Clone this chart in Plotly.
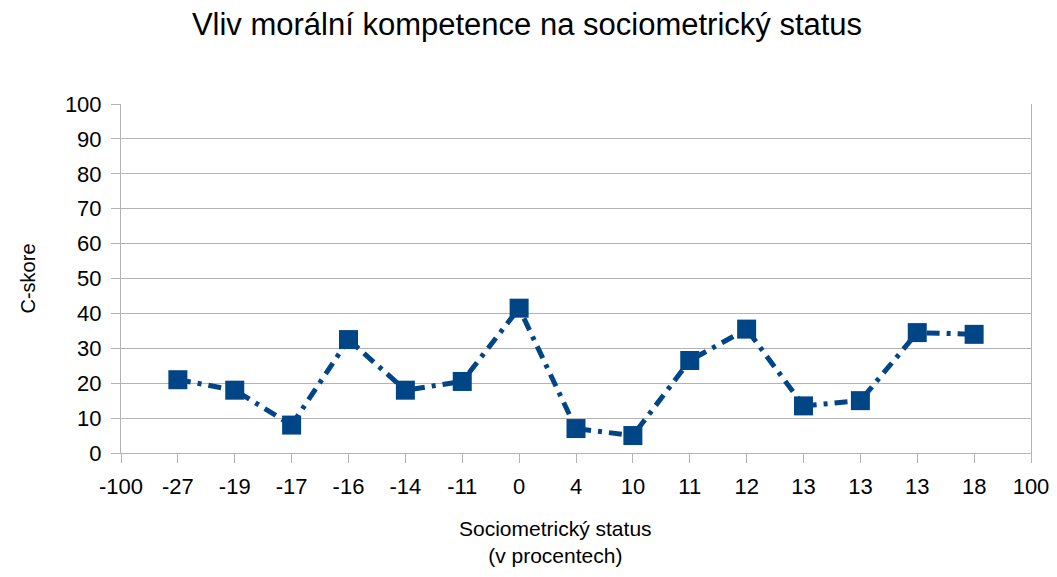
import plotly.graph_objects as go

# category labels along the x axis (first and last carry no data)
x_labels = ["-100", "-27", "-19", "-17", "-16", "-14", "-11", "0", "4",
            "10", "11", "12", "13", "13", "13", "18", "100"]
# C-skore for each pupil, in the order of the labels -27 .. 18
c_skore = [21, 18, 8, 32.5, 18, 20.5, 41.5, 7, 5, 26.5, 35.5, 13.5, 15, 34.5, 34]
y_ticks = list(range(0, 101, 10))

x_pos = list(range(1, len(c_skore) + 1))
blue = "#004586"
grid = "#b3b3b3"
font = "Liberation Sans, Arial, sans-serif"

# the page body keeps an 8px margin on every side, so the figure has to fit inside it
W, H = 1041, 561
L, R, T, B = 113, 18, 96, 116

fig = go.Figure()
fig.add_trace(go.Scatter(
    x=x_pos,
    y=c_skore,
    mode="lines+markers",
    line=dict(color=blue, width=5, dash="13px,7px,4px,7px"),
    marker=dict(symbol="square", size=19, color=blue),
    showlegend=False,
))

fig.update_layout(
    width=W,
    height=H,
    plot_bgcolor="white",
    paper_bgcolor="white",
    font=dict(family=font, color="black", size=22),
    margin=dict(l=L, r=R, t=T, b=B),
    title=dict(
        text="Vliv morální kompetence na sociometrický status",
        x=(527 - 8) / W, xref="container", xanchor="center",
        y=1 - 16 / H, yref="container", yanchor="middle",
        font=dict(size=31, family=font),
    ),
    xaxis=dict(
        range=[0, len(x_labels) - 1],
        tickmode="array",
        tickvals=list(range(len(x_labels))),
        ticktext=x_labels,
        showgrid=False,
        zeroline=False,
        showline=True,
        linecolor=grid,
        linewidth=1,
        ticks="outside",
        ticklen=9,
        tickcolor=grid,
        ticklabelstandoff=5,
        ticklabeloverflow="allow",
        automargin=False,
        tickfont=dict(size=22),
    ),
    yaxis=dict(
        range=[0, 100],
        tickmode="array",
        tickvals=y_ticks,
        showgrid=True,
        gridcolor=grid,
        zeroline=False,
        showline=True,
        mirror=True,
        linecolor=grid,
        linewidth=1,
        ticks="outside",
        ticklen=9,
        tickcolor=grid,
        ticklabelstandoff=5,
        automargin=False,
        tickfont=dict(size=22),
        title=dict(text="C-skore", font=dict(size=20), standoff=23),
    ),
    annotations=[dict(
        text="Sociometrický status<br>(v procentech)",
        x=(555 - 120.5) / (1031 - 120.5), xref="paper",
        y=-(515 - 453) / (453 - 104), yref="paper",
        showarrow=False,
        font=dict(size=21, family=font),
        align="center",
        yanchor="top",
    )],
)

fig.write_html("out.html")
